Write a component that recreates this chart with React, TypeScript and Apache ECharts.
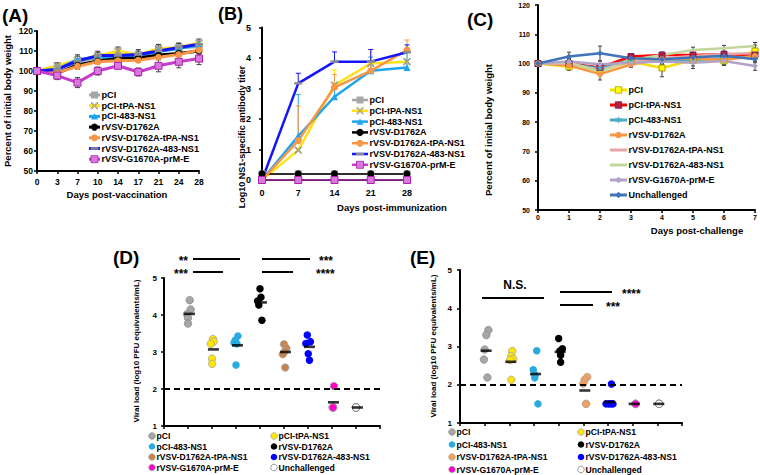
import React, { useEffect, useRef } from 'react';
import * as echarts from 'echarts';

const SANS = '"Liberation Sans", Arial, sans-serif';

// ---------------- Panel A: body weight after vaccination ----------------
const daysA = ['0', '3', '7', '10', '14', '17', '21', '24', '28'];
const groups7 = ['pCI', 'pCI-tPA-NS1', 'pCI-483-NS1', 'rVSV-D1762A', 'rVSV-D1762A-tPA-NS1', 'rVSV-D1762A-483-NS1', 'rVSV-G1670A-prM-E'];
const aPCI = [100, 101.5, 104.6, 106.9, 107.2, 107.7, 110.8, 111.5, 112.3];
const aTPA = [100, 102.6, 105.4, 107.4, 110.0, 108.0, 111.1, 111.8, 114.0];
const a483 = [100, 100.8, 105.7, 106.9, 106.9, 107.7, 109.7, 111.2, 113.1];
const aD1762A = [100, 98.9, 103.0, 105.0, 106.2, 106.5, 108.0, 108.8, 110.0];
const aDTPA = [100, 99.2, 102.3, 104.6, 105.1, 105.4, 106.9, 108.2, 110.5];
const aD483 = [100, 100.8, 105.0, 107.7, 107.7, 108.2, 110.0, 111.8, 113.4];
const aG1670A = [100, 97.7, 94.2, 100.0, 102.6, 99.5, 102.6, 104.6, 106.2];
const aErrPCI = [0, 1.5, 3.5, 2.5, 1.5, 3.0, 2.5, 2.5, 2.5];
const aErrTPA = [0, 1.5, 2.0, 2.5, 2.0, 2.0, 2.0, 2.0, 2.0];
const aErrD1762A = [0, 1.5, 2.0, 1.5, 1.0, 2.0, 1.5, 1.5, 1.5];
const aErrG1670A = [0, 2.0, 2.5, 2.0, 1.5, 2.0, 3.0, 3.0, 3.0];

// ---------------- Panel B: antibody titers ----------------
const daysB = [0, 7, 14, 21, 28];
const bPCI = [0.2, 0.2, 0.2, 0.2, 0.2];
const bTPA = [0, 0.98, 3.11, 3.82, 3.88];
const b483 = [0, 1.44, 2.73, 3.58, 3.69];
const bD1762A = [0.2, 0.2, 0.2, 0.2, 0.2];
const bDTPA = [0, 1.29, 3.04, 3.58, 4.26];
const bD483 = [0, 3.17, 3.88, 3.88, 4.19];
const bG1670A = [0, 0, 0, 0, 0];
const bErrTPA = [0, 0, 0.5, 0.45, 0.3];
const bErr483 = [0, 1.36, 0.25, 0.45, 0.5];
const bErrDTPA = [0, 1.14, 0.42, 0.7, 0.33];
const bErrD483 = [0, 0.33, 0.32, 0.4, 0.24];

// ---------------- Panel C: body weight after challenge ----------------
const daysC = [0, 1, 2, 3, 4, 5, 6, 7];
const groups8 = ['pCI', 'pCI-tPA-NS1', 'pCI-483-NS1', 'rVSV-D1762A', 'rVSV-D1762A-tPA-NS1', 'rVSV-D1762A-483-NS1', 'rVSV-G1670A-prM-E', 'Unchallenged'];
const cPCI = [100, 98.9, 97.6, 100.7, 98.5, 101.2, 100.9, 104.3];
const cTPA = [100, 100.0, 98.7, 102.4, 102.9, 102.9, 103.2, 102.9];
const c483 = [100, 99.9, 98.4, 101.2, 100.9, 101.2, 101.8, 102.4];
const cD1762A = [100, 99.3, 96.4, 99.7, 101.5, 101.8, 101.2, 102.6];
const cDTPA = [100, 99.9, 97.8, 100.7, 101.8, 102.6, 103.3, 103.5];
const cD483 = [100, 100.4, 97.2, 101.2, 102.9, 104.6, 105.2, 106.0];
const cG1670A = [100, 100.7, 99.8, 100.3, 100.7, 100.3, 100.9, 99.2];
const cUnch = [100, 102.4, 103.5, 101.8, 101.5, 102.1, 102.7, 101.5];
const cErrPCI = [0, 1.2, 1.5, 1.5, 3.0, 2.0, 1.5, 2.0];
const cErrD1762A = [0, 1.0, 2.0, 1.0, 1.0, 1.5, 1.5, 1.0];
const cErrG1670A = [0, 1.0, 1.0, 1.0, 1.0, 2.0, 1.5, 1.5];
const cErrUnch = [0, 1.5, 2.5, 1.0, 1.5, 1.0, 1.0, 1.2];
const cErrD483 = [0, 1.0, 1.0, 1.0, 1.0, 1.0, 1.0, 1.2];

// ---------------- Panel D: viral load ----------------
const dVals = [
  [4.40, 4.15, 4.02, 3.92, 3.77],
  [3.35, 3.28, 3.22, 2.82, 2.68],
  [3.43, 3.32, 3.25, 3.22, 2.65],
  [4.71, 4.48, 4.38, 4.27, 3.86],
  [3.21, 3.10, 3.02, 2.94, 2.58],
  [3.46, 3.28, 3.23, 2.95, 2.78],
  [2.08, 1.5, 1.5, 1.5, 1.5],
  [1.5, 1.5, 1.5, 1.5, 1.5],
];
const dJit = [
  [0.07, 0.11, -0.04, 0.0, 0.0],
  [0.04, 0.07, -0.05, 0.0, 0.01],
  [0.08, -0.03, -0.08, 0.04, 0.0],
  [0.0, 0.04, -0.1, -0.05, 0.08],
  [0.0, 0.1, 0.04, -0.05, 0.05],
  [-0.03, 0.1, -0.09, 0.01, 0.06],
  [0.08, 0.02, 0.04, 0.06, 0.04],
  [0.0, 0.0, 0.0, 0.0, 0.0],
];
const dMeans = [4.03, 3.07, 3.18, 4.34, 3.0, 3.14, 1.64, 1.5];

// ---------------- Panel E: viral load ----------------
const eVals = [
  [3.43, 3.30, 2.92, 2.66, 2.19],
  [2.88, 2.75, 2.68, 2.65, 2.13],
  [2.89, 2.39, 2.26, 2.18, 1.5],
  [3.21, 2.94, 2.88, 2.77, 2.59],
  [2.20, 2.13, 2.03, 1.5, 1.5],
  [2.02, 1.5, 1.5, 1.5, 1.5],
  [1.5, 1.5, 1.5, 1.5, 1.5],
  [1.5, 1.5, 1.5, 1.5, 1.5],
];
const eJit = [
  [0.15, 0.07, 0.0, -0.03, 0.11],
  [0.12, 0.08, 0.16, 0.03, 0.08],
  [0.11, -0.03, 0.04, 0.03, 0.16],
  [0.0, 0.15, 0.05, 0.08, 0.08],
  [0.16, 0.05, 0.0, 0.11, 0.11],
  [0.14, -0.08, 0.03, 0.12, 0.2],
  [0.12, 0.12, 0.12, 0.12, 0.12],
  [0.07, 0.07, 0.07, 0.07, 0.07],
];
const eMeans = [2.89, 2.60, 2.28, 2.86, 1.85, 1.55, 1.5, 1.5];

// ---------------- styles ----------------
const POLY: any = {
  x: [[1, 0], [5, 4], [9, 0], [10, 1], [6, 5], [10, 9], [9, 10], [5, 6], [1, 10], [0, 9], [4, 5], [0, 1]],
  triangle: [[5, 0.5], [10, 9.5], [0, 9.5]],
  diamond: [[5, 0], [10, 5], [5, 10], [0, 5]],
  asterisk: [[4, 0], [6, 0], [6, 3.3], [8.9, 1.6], [9.9, 3.3], [7, 5], [9.9, 6.7], [8.9, 8.4], [6, 6.7], [6, 10], [4, 10], [4, 6.7], [1.1, 8.4], [0.1, 6.7], [3, 5], [0.1, 3.3], [1.1, 1.6], [4, 3.3]],
};
const pathOf = (k: string) => 'path://M' + POLY[k].map((p: number[]) => p.join(',')).join('L') + 'Z';
const symOf = (k: string) => ({ rect: 'rect', circle: 'circle', dash: 'rect', none: 'none', triangle: 'triangle', diamond: 'diamond', x: pathOf('x'), asterisk: pathOf('asterisk') } as any)[k];

const stAB = [
  { color: '#A6A6A6', mk: 'rect', fill: '#A6A6A6', stroke: '' },
  { color: '#FFE21A', mk: 'x', fill: '#F0DC50', stroke: '#8C8C8C' },
  { color: '#1EA5F0', mk: 'triangle', fill: '#1EA5F0', stroke: '' },
  { color: '#000000', mk: 'circle', fill: '#000000', stroke: '' },
  { color: '#F79646', mk: 'circle', fill: '#F79646', stroke: '' },
  { color: '#1414FF', mk: 'dash', fill: '#8C8C8C', stroke: '' },
  { color: '#C83CCB', mk: 'rect', fill: '#D77ADB', stroke: '#B020B0' },
];
const stC = [
  { color: '#F5E000', mk: 'rect', fill: '#FFFF00', stroke: '#B09A00' },
  { color: '#FF0000', mk: 'rect', fill: '#B0203C', stroke: '#7A1A5A' },
  { color: '#4BACC6', mk: 'asterisk', fill: '#4BACC6', stroke: '' },
  { color: '#F79646', mk: 'circle', fill: '#F79646', stroke: '' },
  { color: '#E6A5A3', mk: 'none', fill: '#E6A5A3', stroke: '' },
  { color: '#C3D69B', mk: 'none', fill: '#C3D69B', stroke: '' },
  { color: '#B3A2C7', mk: 'diamond', fill: '#B3A2C7', stroke: '' },
  { color: '#3F75B8', mk: 'diamond', fill: '#3F75B8', stroke: '' },
];
const dColors = ['#A6A6A6', '#FFE600', '#29ABE2', '#000000', '#C8824A', '#0000FF', '#FF00CC', '#FFFFFF'];
const eColors = ['#A6A6A6', '#FFE600', '#29ABE2', '#000000', '#F4A05A', '#0000FF', '#FF00CC', '#FFFFFF'];
const dotBorder = ['#8C8C8C', '#A6A6A6', '', '', '#A6A6A6', '', '#A6A6A6', '#7F7F7F'];

// ---------------- helpers ----------------
function errBars(ai: number, xs: any[], ys: number[], errs: number[], color: string, upperOnly: boolean, cap: number) {
  const data: any[] = [];
  xs.forEach((x, i) => { if (errs[i] > 0) data.push([x, upperOnly ? ys[i] : ys[i] - errs[i], ys[i] + errs[i]]); });
  return {
    type: 'custom', xAxisIndex: ai, yAxisIndex: ai, z: 1, silent: true, data,
    renderItem: (_p: any, api: any) => {
      const x = api.value(0);
      const lo = api.coord([x, api.value(1)]);
      const hi = api.coord([x, api.value(2)]);
      const st = { stroke: color, lineWidth: 1 };
      const ch: any[] = [
        { type: 'line', shape: { x1: lo[0], y1: lo[1], x2: hi[0], y2: hi[1] }, style: st },
        { type: 'line', shape: { x1: hi[0] - cap, y1: hi[1], x2: hi[0] + cap, y2: hi[1] }, style: st },
      ];
      if (!upperOnly) ch.push({ type: 'line', shape: { x1: lo[0] - cap, y1: lo[1], x2: lo[0] + cap, y2: lo[1] }, style: st });
      return { type: 'group', children: ch };
    },
  };
}

function lineSeries(ai: number, name: string, data: any[], st: any, lw: number, size: number) {
  return {
    type: 'line', name, xAxisIndex: ai, yAxisIndex: ai, data, z: 3,
    symbol: symOf(st.mk), showSymbol: st.mk !== 'none',
    symbolSize: st.mk === 'dash' ? [size + 1, 2.5] : size,
    lineStyle: { color: st.color, width: lw },
    itemStyle: { color: st.fill, borderColor: st.stroke || st.fill, borderWidth: st.stroke ? 1 : 0 },
  };
}

function marker(kind: string, cx: number, cy: number, s: number, fill: string, stroke: string): any[] {
  const style = { fill, stroke: stroke || fill, lineWidth: stroke ? 0.8 : 0 };
  if (kind === 'none') return [];
  if (kind === 'circle') return [{ type: 'circle', z: 51, shape: { cx, cy, r: s / 2 }, style }];
  if (kind === 'rect') return [{ type: 'rect', z: 51, shape: { x: cx - s / 2, y: cy - s / 2, width: s, height: s }, style }];
  if (kind === 'dash') return [{ type: 'rect', z: 51, shape: { x: cx - s / 2, y: cy - 1.2, width: s, height: 2.4 }, style: { fill } }];
  const pts = POLY[kind].map((p: number[]) => [cx - s / 2 + (p[0] * s) / 10, cy - s / 2 + (p[1] * s) / 10]);
  return [{ type: 'polygon', z: 51, shape: { points: pts }, style }];
}

function txt(x: number, y: number, text: string, fs: number, align = 'left', rot = 0, weight = 'bold') {
  return {
    type: 'text', x, y, rotation: rot, z: 52,
    style: { text, fill: '#000', fontSize: fs, fontWeight: weight, fontFamily: SANS, align, verticalAlign: 'middle' },
  };
}

function hline(x1: number, x2: number, y: number, w = 2) {
  return { type: 'line', z: 50, shape: { x1, y1: y, x2, y2: y }, style: { stroke: '#000', lineWidth: w } };
}

function lineLegend(x: number, y0: number, dy: number, len: number, names: string[], styles: any[], fs: number, lw: number, ms: number) {
  const els: any[] = [];
  names.forEach((n, i) => {
    const y = y0 + i * dy;
    const st = styles[i];
    els.push({ type: 'line', z: 50, shape: { x1: x, y1: y, x2: x + len, y2: y }, style: { stroke: st.color, lineWidth: lw } });
    els.push(...marker(st.mk, x + len / 2, y, st.mk === 'dash' ? ms + 1 : ms, st.fill, st.stroke));
    els.push(txt(x + len + 1.5, y, n, fs));
  });
  return els;
}

function dotLegend(cols: number[], rows: number[], colors: string[], fs: number) {
  const els: any[] = [];
  groups8.forEach((n, i) => {
    const cx = cols[i % 2];
    const cy = rows[Math.floor(i / 2)];
    els.push({ type: 'circle', z: 51, shape: { cx, cy, r: 3.3 }, style: { fill: colors[i], stroke: dotBorder[i] || colors[i], lineWidth: dotBorder[i] ? 0.8 : 0 } });
    els.push(txt(cx + 4.5, cy, n, fs));
  });
  return els;
}

function axisBase(fs: number, margin: number, showLabel = true) {
  return {
    axisLine: { show: true, onZero: false, lineStyle: { color: '#000', width: 2 } },
    axisTick: { show: true, length: 3, lineStyle: { color: '#000', width: 1.5 } },
    axisLabel: { show: showLabel, color: '#000', fontSize: fs, fontWeight: 'bold', fontFamily: SANS, margin },
    splitLine: { show: false },
  };
}

function scatterPanel(ai: number, vals: number[][], jit: number[][], means: number[], colors: string[]) {
  const s: any[] = vals.map((arr, g) => ({
    type: 'scatter', name: groups8[g], xAxisIndex: ai, yAxisIndex: ai, z: 3, symbol: 'circle', symbolSize: 7.5,
    itemStyle: { color: colors[g], borderColor: dotBorder[g] || colors[g], borderWidth: dotBorder[g] ? 0.8 : 0, opacity: 1 },
    data: arr.map((v, i) => [g + 1 + jit[g][i], v]),
  }));
  s.push({
    type: 'scatter', xAxisIndex: ai, yAxisIndex: ai, z: 4, symbol: 'rect', symbolSize: [11, 2.6],
    itemStyle: { color: '#000' },
    data: means.map((m, g) => [g + 1 + 0.06, m]),
    markLine: {
      silent: true, symbol: 'none', label: { show: false },
      lineStyle: { type: [6, 4], color: '#000', width: 2 },
      data: [{ yAxis: 2 }],
    },
  });
  return s;
}

function buildOption() {
  const series: any[] = [];
  // A
  const aData = [aPCI, aTPA, a483, aD1762A, aDTPA, aD483, aG1670A];
  const idxA = daysA.map((_, i) => i);
  series.push(errBars(0, idxA, aPCI, aErrPCI, '#404040', false, 2.5));
  series.push(errBars(0, idxA, aTPA, aErrTPA, '#404040', false, 2.5));
  series.push(errBars(0, idxA, aD1762A, aErrD1762A, '#404040', false, 2.5));
  series.push(errBars(0, idxA, aG1670A, aErrG1670A, '#404040', false, 2.5));
  aData.forEach((d, i) => series.push(lineSeries(0, groups7[i], d, stAB[i], 3, 7)));
  // B
  series.push(errBars(1, daysB, bTPA, bErrTPA, stAB[1].color, true, 2.5));
  series.push(errBars(1, daysB, b483, bErr483, stAB[2].color, true, 2.5));
  series.push(errBars(1, daysB, bDTPA, bErrDTPA, stAB[4].color, true, 2.5));
  series.push(errBars(1, daysB, bD483, bErrD483, stAB[5].color, true, 2.5));
  const bData = [bPCI, bTPA, b483, bD1762A, bDTPA, bD483, bG1670A];
  bData.forEach((d, i) => {
    const thin = i === 0 || i === 3 || i === 6;
    series.push(lineSeries(1, groups7[i], daysB.map((x, j) => [x, d[j]]), stAB[i], thin ? 1.5 : 2.5, 7));
  });
  // C
  series.push(errBars(2, daysC, cPCI, cErrPCI, '#404040', false, 2));
  series.push(errBars(2, daysC, cD1762A, cErrD1762A, '#404040', false, 2));
  series.push(errBars(2, daysC, cG1670A, cErrG1670A, '#404040', false, 2));
  series.push(errBars(2, daysC, cUnch, cErrUnch, '#404040', false, 2));
  series.push(errBars(2, daysC, cD483, cErrD483, '#404040', false, 2));
  const cData = [cPCI, cTPA, c483, cD1762A, cDTPA, cD483, cG1670A, cUnch];
  cData.forEach((d, i) => series.push(lineSeries(2, groups8[i], daysC.map((x, j) => [x, d[j]]), stC[i], 2.5, 6)));
  // D, E
  series.push(...scatterPanel(3, dVals, dJit, dMeans, dColors));
  series.push(...scatterPanel(4, eVals, eJit, eMeans, eColors));

  const graphic: any[] = [
    txt(2, 15, '(A)', 19), txt(218, 14, '(B)', 18), txt(467, 19, '(C)', 19), txt(113, 257, '(D)', 19), txt(410, 257, '(E)', 19),
    txt(7, 101, 'Percent of initial body weight', 9.5, 'center', Math.PI / 2),
    txt(117, 194, 'Days post-vaccination', 9.5, 'center'),
    txt(242, 137, 'Log10 NS1-specific antibody titer', 9, 'center', Math.PI / 2),
    txt(392, 207, 'Days post-immunization', 9.5, 'center'),
    txt(488, 130, 'Percent of initial body weight', 9.5, 'center', Math.PI / 2),
    txt(697, 230, 'Days post-challenge', 9.5, 'center'),
    txt(136, 351, 'Viral load (log10 PFU equivalents/mL)', 8, 'center', Math.PI / 2),
    txt(433, 346, 'Viral load (log10 PFU equivalents/mL)', 8, 'center', Math.PI / 2),
    // D significance
    hline(193, 240, 259), hline(193, 223, 272), hline(262, 310, 259), hline(262, 293, 272),
    txt(188, 261, '**', 12, 'right'), txt(188, 274, '***', 12, 'right'),
    txt(319, 261, '***', 12), txt(316, 274, '****', 12),
    // E significance
    txt(515, 285, 'N.S.', 12, 'center'),
    hline(482, 544, 298), hline(560, 612, 292), hline(560, 593, 305),
    txt(622, 294, '****', 12), txt(606, 307, '***', 12),
  ];
  graphic.push(...lineLegend(89, 95, 10.7, 11, groups7, stAB, 9.2, 3, 7));
  graphic.push(...lineLegend(352, 100, 10.8, 16, groups7, stAB, 9, 2.5, 7));
  graphic.push(...lineLegend(610, 90, 15, 17, groups8, stC, 9, 3, 6.5));
  graphic.push(...dotLegend([152, 274], [436, 446.5, 457, 467.5], dColors, 8.6));
  graphic.push(...dotLegend([452, 581], [432, 444.5, 457, 469.5], eColors, 8.6));

  return {
    animation: false,
    backgroundColor: '#fff',
    textStyle: { fontFamily: SANS },
    grid: [
      { left: 37, top: 31, width: 162, height: 140 },
      { left: 262, top: 27.5, width: 145, height: 152.5 },
      { left: 538, top: 5, width: 217, height: 205 },
      { left: 164, top: 278, width: 216, height: 148 },
      { left: 460, top: 270, width: 222, height: 153 },
    ],
    xAxis: [
      { gridIndex: 0, type: 'category', data: daysA, boundaryGap: false, ...axisBase(8.5, 6) },
      { gridIndex: 1, type: 'value', min: 0, max: 28, interval: 7, ...axisBase(9, 8) },
      { gridIndex: 2, type: 'value', min: 0, max: 7, interval: 1, ...axisBase(7, 4) },
      { gridIndex: 3, type: 'value', min: 0, max: 9, interval: 1, ...axisBase(8, 4, false) },
      { gridIndex: 4, type: 'value', min: 0, max: 9, interval: 1, ...axisBase(8, 4, false) },
    ],
    yAxis: [
      { gridIndex: 0, type: 'value', min: 50, max: 120, interval: 10, ...axisBase(8.5, 4) },
      { gridIndex: 1, type: 'value', min: 0, max: 5, interval: 1, ...axisBase(9, 11) },
      { gridIndex: 2, type: 'value', min: 50, max: 120, interval: 10, ...axisBase(7, 8) },
      { gridIndex: 3, type: 'value', min: 1, max: 5, interval: 1, ...axisBase(8, 7) },
      { gridIndex: 4, type: 'value', min: 1, max: 5, interval: 1, ...axisBase(8, 8) },
    ],
    series,
    graphic,
  };
}

export default function App() {
  const ref = useRef<HTMLDivElement>(null);
  useEffect(() => {
    const chart = echarts.init(ref.current as HTMLDivElement, null, { renderer: 'svg' });
    chart.setOption(buildOption() as any);
    return () => chart.dispose();
  }, []);
  return <div ref={ref} style={{ position: 'fixed', left: 0, top: 0, width: 760, height: 475, background: '#fff' }} />;
}
